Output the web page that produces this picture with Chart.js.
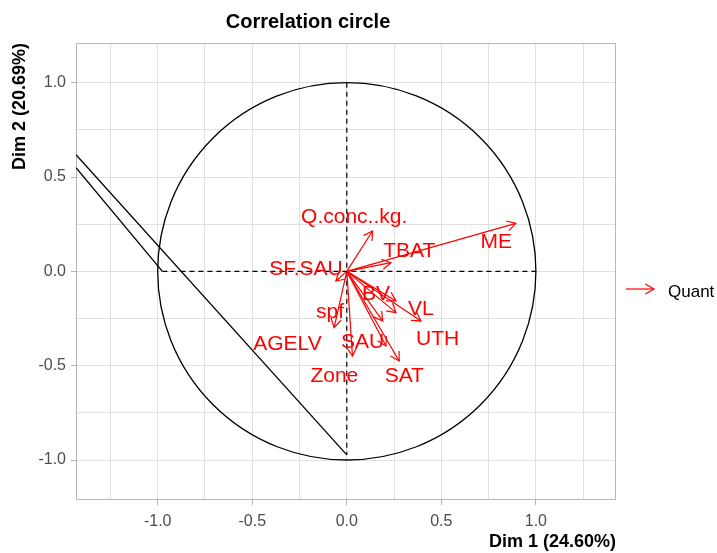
<!DOCTYPE html>
<html>
<head>
<meta charset="utf-8">
<script src="https://cdn.jsdelivr.net/npm/chart.js@4"></script>
<style>
  body { margin: 0; background: #fff; }
  #wrap { width: 717px; height: 553px; }
</style>
</head>
<body>
<div id="wrap"><canvas id="myChart" width="717" height="553"></canvas></div>
<script>
// grid / tick values
var xTickValues = [-1.25, -1, -0.75, -0.5, -0.25, 0, 0.25, 0.5, 0.75, 1, 1.25];
var yTickValues = [-1, -0.75, -0.5, -0.25, 0, 0.25, 0.5, 0.75, 1];

// variables (Dim 1, Dim 2 coordinates)
var varNames = ['Q.conc..kg.', 'TBAT', 'ME', 'SF.SAU', 'BV', 'VL', 'UTH', 'spf', 'SAU', 'AGELV', 'Zone', 'SAT'];
var dim1 = [0.136, 0.233, 0.894, -0.058, 0.26, 0.392, 0.26, -0.067, 0.207, 0.19, 0.03, 0.277];
var dim2 = [0.214, 0.046, 0.254, -0.051, -0.157, -0.263, -0.219, -0.298, -0.396, -0.263, -0.449, -0.475];

// label positions (repelled), in plot units
var labelDim1 = [0.039, 0.33, 0.79, -0.216, 0.154, 0.392, 0.48, -0.089, 0.083, -0.314, -0.066, 0.304];
var labelDim2 = [0.286, 0.108, 0.154, 0.011, -0.123, -0.201, -0.36, -0.219, -0.378, -0.387, -0.555, -0.555];

// stray path segments seen in the original
var strayA_x = [-1.432, 0];
var strayA_y = [0.618, -0.973];
var strayB_x = [-1.432, -0.975];
var strayB_y = [0.549, 0];

// dashed axes
var hAxis_x = [-0.975, 1.0];
var vAxis_y = [1.0, -0.973];

function pts(xs, ys) {
  return xs.map(function (x, i) { return { x: x, y: ys[i] }; });
}

var datasets = [];
varNames.forEach(function (n, i) {
  datasets.push({
    label: n,
    data: [{ x: 0, y: 0 }, { x: dim1[i], y: dim2[i] }],
    showLine: true,
    borderColor: 'rgb(255,0,0)',
    borderWidth: 1.2,
    pointRadius: 0
  });
});
datasets.push({ data: pts(strayA_x, strayA_y), showLine: true, borderColor: '#000', borderWidth: 1.3, pointRadius: 0 });
datasets.push({ data: pts(strayB_x, strayB_y), showLine: true, borderColor: '#000', borderWidth: 1.3, pointRadius: 0 });
datasets.push({ data: pts(hAxis_x, [0, 0]), showLine: true, borderColor: '#000', borderWidth: 1.2, borderDash: [5, 4], pointRadius: 0 });
datasets.push({ data: pts([0, 0], vAxis_y), showLine: true, borderColor: '#000', borderWidth: 1.2, borderDash: [5, 4], pointRadius: 0 });

function isMajor(v) {
  return Math.abs(v * 2 - Math.round(v * 2)) < 1e-9;
}

function arrowHead(ctx, x0, y0, x1, y1, len) {
  var a = Math.atan2(y1 - y0, x1 - x0);
  var w = Math.PI / 6;
  ctx.beginPath();
  ctx.moveTo(x1 - len * Math.cos(a - w), y1 - len * Math.sin(a - w));
  ctx.lineTo(x1, y1);
  ctx.lineTo(x1 - len * Math.cos(a + w), y1 - len * Math.sin(a + w));
  ctx.stroke();
}

var extras = {
  id: 'extras',
  beforeDatasetsDraw: function (chart) {
    var ctx = chart.ctx, xs = chart.scales.x, ys = chart.scales.y, a = chart.chartArea;
    ctx.save();
    // panel border
    ctx.strokeStyle = '#b8b8b8';
    ctx.lineWidth = 1;
    ctx.strokeRect(a.left + 0.5, a.top + 0.5, a.right - a.left - 1, a.bottom - a.top - 1);
    // unit circle
    var cx = xs.getPixelForValue(0), cy = ys.getPixelForValue(0);
    var rx = xs.getPixelForValue(1) - cx, ry = cy - ys.getPixelForValue(1);
    ctx.strokeStyle = '#000';
    ctx.lineWidth = 1.3;
    ctx.beginPath();
    ctx.ellipse(cx, cy, rx, ry, 0, 0, Math.PI * 2);
    ctx.stroke();
    ctx.restore();
  },
  afterDatasetsDraw: function (chart) {
    var ctx = chart.ctx, xs = chart.scales.x, ys = chart.scales.y, a = chart.chartArea;
    var ox = xs.getPixelForValue(0), oy = ys.getPixelForValue(0);
    ctx.save();
    ctx.strokeStyle = 'rgb(255,0,0)';
    ctx.lineWidth = 1.2;
    varNames.forEach(function (n, i) {
      arrowHead(ctx, ox, oy, xs.getPixelForValue(dim1[i]), ys.getPixelForValue(dim2[i]), 10);
    });
    ctx.fillStyle = 'rgb(255,0,0)';
    ctx.font = '21px "Liberation Sans", Arial, sans-serif';
    ctx.textAlign = 'center';
    ctx.textBaseline = 'middle';
    varNames.forEach(function (n, i) {
      ctx.fillText(n, xs.getPixelForValue(labelDim1[i]), ys.getPixelForValue(labelDim2[i]));
    });
    // legend
    var ly = 289;
    ctx.beginPath();
    ctx.moveTo(a.right + 10, ly);
    ctx.lineTo(a.right + 38, ly);
    ctx.stroke();
    arrowHead(ctx, a.right + 10, ly, a.right + 38, ly, 10);
    ctx.fillStyle = '#000';
    ctx.font = '17px "Liberation Sans", Arial, sans-serif';
    ctx.textAlign = 'left';
    ctx.fillText('Quant', a.right + 52, ly + 3);
    ctx.restore();
  }
};

var tickFont = { family: '"Liberation Sans", Arial, sans-serif', size: 16 };
var titleFont = { family: '"Liberation Sans", Arial, sans-serif', size: 18, weight: 'bold', lineHeight: 1.2 };

function tickLabel(v) {
  return isMajor(v) ? (Math.abs(v) < 1e-9 ? '0.0' : v.toFixed(1)) : '';
}

var ctx = document.getElementById('myChart');
var myChart = new Chart(ctx, {
  type: 'scatter',
  data: { datasets: datasets },
  plugins: [extras],
  options: {
    responsive: false,
    animation: false,
    devicePixelRatio: 1,
    layout: { padding: { right: 101, left: 0, top: 0, bottom: 0 } },
    plugins: {
      legend: { display: false },
      tooltip: { enabled: false },
      title: {
        display: true,
        text: 'Correlation circle',
        color: '#000',
        font: { family: '"Liberation Sans", Arial, sans-serif', size: 20, weight: 'bold', lineHeight: 1.2 },
        padding: { top: 10, bottom: 9 }
      }
    },
    scales: {
      x: {
        type: 'linear',
        min: -1.432,
        max: 1.4236,
        afterBuildTicks: function (s) { s.ticks = xTickValues.map(function (v) { return { value: v }; }); },
        afterFit: function (s) { s.height = 53; },
        border: { display: false },
        grid: {
          color: '#e0e0e0',
          lineWidth: 1,
          tickLength: 5,
          tickColor: function (c) { return c.tick && isMajor(c.tick.value) ? '#b3b3b3' : 'rgba(0,0,0,0)'; }
        },
        ticks: { autoSkip: false, maxRotation: 0, padding: 7, color: '#4d4d4d', font: tickFont, callback: tickLabel },
        title: { display: true, text: 'Dim 1 (24.60%)', align: 'end', color: '#000', font: titleFont, padding: { top: 0, bottom: 0 } }
      },
      y: {
        type: 'linear',
        min: -1.212,
        max: 1.2104,
        afterBuildTicks: function (s) { s.ticks = yTickValues.map(function (v) { return { value: v }; }); },
        afterFit: function (s) { s.width = 76; },
        border: { display: false },
        grid: {
          color: '#e0e0e0',
          lineWidth: 1,
          tickLength: 5,
          tickColor: function (c) { return c.tick && isMajor(c.tick.value) ? '#b3b3b3' : 'rgba(0,0,0,0)'; }
        },
        ticks: { autoSkip: false, padding: 5, color: '#4d4d4d', font: tickFont, callback: tickLabel },
        title: { display: true, text: 'Dim 2 (20.69%)', align: 'end', color: '#000', font: titleFont, padding: { top: 9, bottom: 0 } }
      }
    }
  }
});
</script>
</body>
</html>
